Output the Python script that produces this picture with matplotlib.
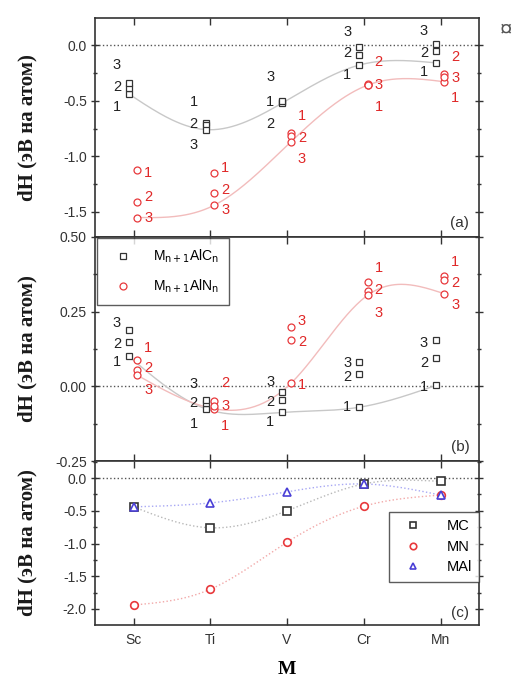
import matplotlib
matplotlib.use('Agg')
import matplotlib.pyplot as plt
import numpy as np
from matplotlib.ticker import MultipleLocator, FormatStrFormatter

plt.rcParams['font.family'] = ['Liberation Sans', 'DejaVu Sans']
plt.rcParams['axes.unicode_minus'] = False

metals = ['Sc', 'Ti', 'V', 'Cr', 'Mn']
n_values = [1, 2, 3]

# (a) dH of M(n+1)AlC(n) / M(n+1)AlN(n), rows are n = 1, 2, 3
dh_carb_a = [[-0.44, -0.70, -0.51, -0.18, -0.16],
             [-0.39, -0.72, -0.52, -0.09, -0.05],
             [-0.34, -0.76, -0.50, -0.02, 0.01]]
dh_nitr_a = [[-1.12, -1.15, -0.79, -0.36, -0.33],
             [-1.41, -1.33, -0.82, -0.35, -0.26],
             [-1.55, -1.44, -0.87, -0.36, -0.29]]

# (b)
dh_carb_b = [[0.10, -0.075, -0.087, -0.07, 0.003],
             [0.15, -0.055, -0.047, 0.04, 0.095],
             [0.19, -0.045, -0.02, 0.08, 0.155]]
dh_nitr_b = [[0.087, -0.075, 0.01, 0.35, 0.37],
             [0.054, -0.05, 0.155, 0.32, 0.355],
             [0.037, -0.065, 0.20, 0.305, 0.31]]

# (c) binary compounds
dh_mc = [-0.44, -0.76, -0.50, -0.09, -0.05]
dh_mn = [-1.94, -1.70, -0.98, -0.43, -0.26]
dh_mal = [-0.44, -0.38, -0.21, -0.09, -0.26]

# vertical placement of the n labels (pixels, relative to the marker)
off_carb_a = [[-13, 21, 0, -10, -9], [1, 1, -21, 2, -2], [18, -15, 24, 15, 13]]
off_nitr_a = [[-3, 5, 17, -22, -16], [5, 3, -2, 22, 17], [0, -5, -17, 0, -1]]
off_carb_b = [[-6, -15, -10, 0, -2], [-2, 0, -2, -3, -5], [7, 16, 10, -1, -3]]
off_nitr_b = [[12, -17, -2, 14, 14], [2, 18, -2, 1, -3], [-15, 0, 6, -18, -11]]

BLACK = '#333333'
RED = '#e8393c'
BLUE = '#4a3fd6'


def spline(y, num=200):
    # natural cubic spline on unit spaced knots
    y = np.asarray(y, dtype=float)
    n = len(y)
    A = np.zeros((n, n))
    r = np.zeros(n)
    A[0, 0] = A[-1, -1] = 1
    for i in range(1, n - 1):
        A[i, i - 1], A[i, i], A[i, i + 1] = 1, 4, 1
        r[i] = 6 * (y[i + 1] - 2 * y[i] + y[i - 1])
    m = np.linalg.solve(A, r)
    t = np.linspace(0, n - 1, num)
    i = np.minimum(t.astype(int), n - 2)
    u = t - i
    s = ((1 - u) * y[i] + u * y[i + 1]
         + ((1 - u) ** 3 - (1 - u)) * m[i] / 6 + (u ** 3 - u) * m[i + 1] / 6)
    return t, s


x = np.arange(len(metals))

fig = plt.figure(figsize=(5.2, 6.8), dpi=100)
ax_a = fig.add_axes([0.183, 0.6515, 0.738, 0.322])
ax_b = fig.add_axes([0.183, 0.322, 0.738, 0.3295])
ax_c = fig.add_axes([0.183, 0.081, 0.738, 0.241])


def draw_family(ax, data, offsets, color, marker, shift, dx, label, line_color):
    data = np.array(data)
    t, s = spline(data.min(axis=0))
    ax.plot(t + shift, s, color=line_color, lw=1.0, zorder=1)
    for k, n in enumerate(n_values):
        ax.plot(x + shift, data[k], ls='none', marker=marker, ms=5, mfc='white',
                mec=color, mew=0.9, zorder=3, label=label if k == 0 else None)
        for j in range(len(metals)):
            ax.annotate(str(n), (x[j] + shift, data[k][j]),
                        xytext=(dx, offsets[k][j]), textcoords='offset pixels',
                        ha='center', va='center', fontsize=10.5,
                        color='#222222' if color == BLACK else '#e02828', zorder=4)


def style_axis(ax, ylim, major, minor, fmt, letter):
    ax.set_xlim(-0.5, 4.5)
    ax.set_ylim(*ylim)
    ax.axhline(0, color='#555555', ls=':', lw=1.0, zorder=0)
    ax.set_xticks(x)
    ax.set_xticklabels(metals)
    ax.yaxis.set_major_locator(MultipleLocator(major))
    ax.yaxis.set_minor_locator(MultipleLocator(minor))
    ax.yaxis.set_major_formatter(FormatStrFormatter(fmt))
    ax.tick_params(axis='x', which='both', direction='in', top=True, length=5,
                   width=1, color=BLACK, labelsize=10, labelcolor='#333333', pad=6)
    ax.tick_params(axis='y', which='major', direction='inout', right=True, length=6,
                   width=1, color=BLACK, labelsize=10, labelcolor='#333333', pad=3)
    ax.tick_params(axis='y', which='minor', direction='inout', right=True, length=3,
                   width=1, color=BLACK)
    for sp in ax.spines.values():
        sp.set_color(BLACK)
        sp.set_linewidth(1.2)
    ax.set_ylabel('dH (эВ на атом)', family=['Liberation Serif', 'DejaVu Serif'],
                  fontweight='bold', fontsize=15, color='#1a1a1a')
    ax.yaxis.set_label_coords(-0.15, 0.5)
    ax.text(0.975, 0.03, letter, transform=ax.transAxes, ha='right', va='bottom',
            fontsize=11, color='#333333')


# panel (a)
draw_family(ax_a, dh_carb_a, off_carb_a, BLACK, 's', -0.06, -12, None, '#c8c8c8')
draw_family(ax_a, dh_nitr_a, off_nitr_a, RED, 'o', 0.05, 11, None, '#f2bcbc')
style_axis(ax_a, (-1.725, 0.243), 0.5, 0.25, '%.1f', '(a)')
ax_a.tick_params(axis='x', labelbottom=False)

# panel (b)
draw_family(ax_b, dh_carb_b, off_carb_b, BLACK, 's', -0.06, -12,
            r'M$_{\mathrm{n+1}}$AlC$_{\mathrm{n}}$', '#c8c8c8')
draw_family(ax_b, dh_nitr_b, off_nitr_b, RED, 'o', 0.05, 11,
            r'M$_{\mathrm{n+1}}$AlN$_{\mathrm{n}}$', '#f2bcbc')
style_axis(ax_b, (-0.25, 0.50), 0.25, 0.125, '%.2f', '(b)')
ax_b.tick_params(axis='x', labelbottom=False)
leg = ax_b.legend(loc='upper left', bbox_to_anchor=(0.0, 1.0), borderaxespad=0.1,
                  fancybox=False, edgecolor=BLACK, fontsize=10, handletextpad=1.0,
                  borderpad=0.7, labelspacing=0.9, handlelength=2.4)
leg.get_frame().set_linewidth(1.0)

# panel (c)
for vals, color, lc, marker, name in [(dh_mc, BLACK, '#b8b8b8', 's', 'MC'),
                                      (dh_mn, RED, '#f2a8a8', 'o', 'MN'),
                                      (dh_mal, BLUE, '#a8a8f4', '^', 'MAl')]:
    t, s = spline(vals)
    ax_c.plot(t, s, color=lc, lw=1.0, ls=':', zorder=1)
    ax_c.plot(x, vals, ls='none', marker=marker, ms=5.5, mfc='white', mec=color,
              mew=1.2, zorder=3, label=name)
style_axis(ax_c, (-2.244, 0.26), 0.5, 0.25, '%.1f', '(c)')
leg = ax_c.legend(loc='upper right', bbox_to_anchor=(1.0, 0.69), borderaxespad=0,
                  fancybox=False, edgecolor=BLACK, fontsize=10.5, handletextpad=1.2,
                  borderpad=0.5, labelspacing=0.45, handlelength=2.2, markerscale=0.85)
leg.get_frame().set_linewidth(1.0)
ax_c.set_xlabel('M', family=['Liberation Serif', 'DejaVu Serif'], fontweight='bold',
                fontsize=14, labelpad=10)

fig.text(506 / 520, 1 - 30 / 680, '¤', ha='center', va='center', fontsize=16,
         color='#555555')

fig.savefig('out.png', dpi=100)
